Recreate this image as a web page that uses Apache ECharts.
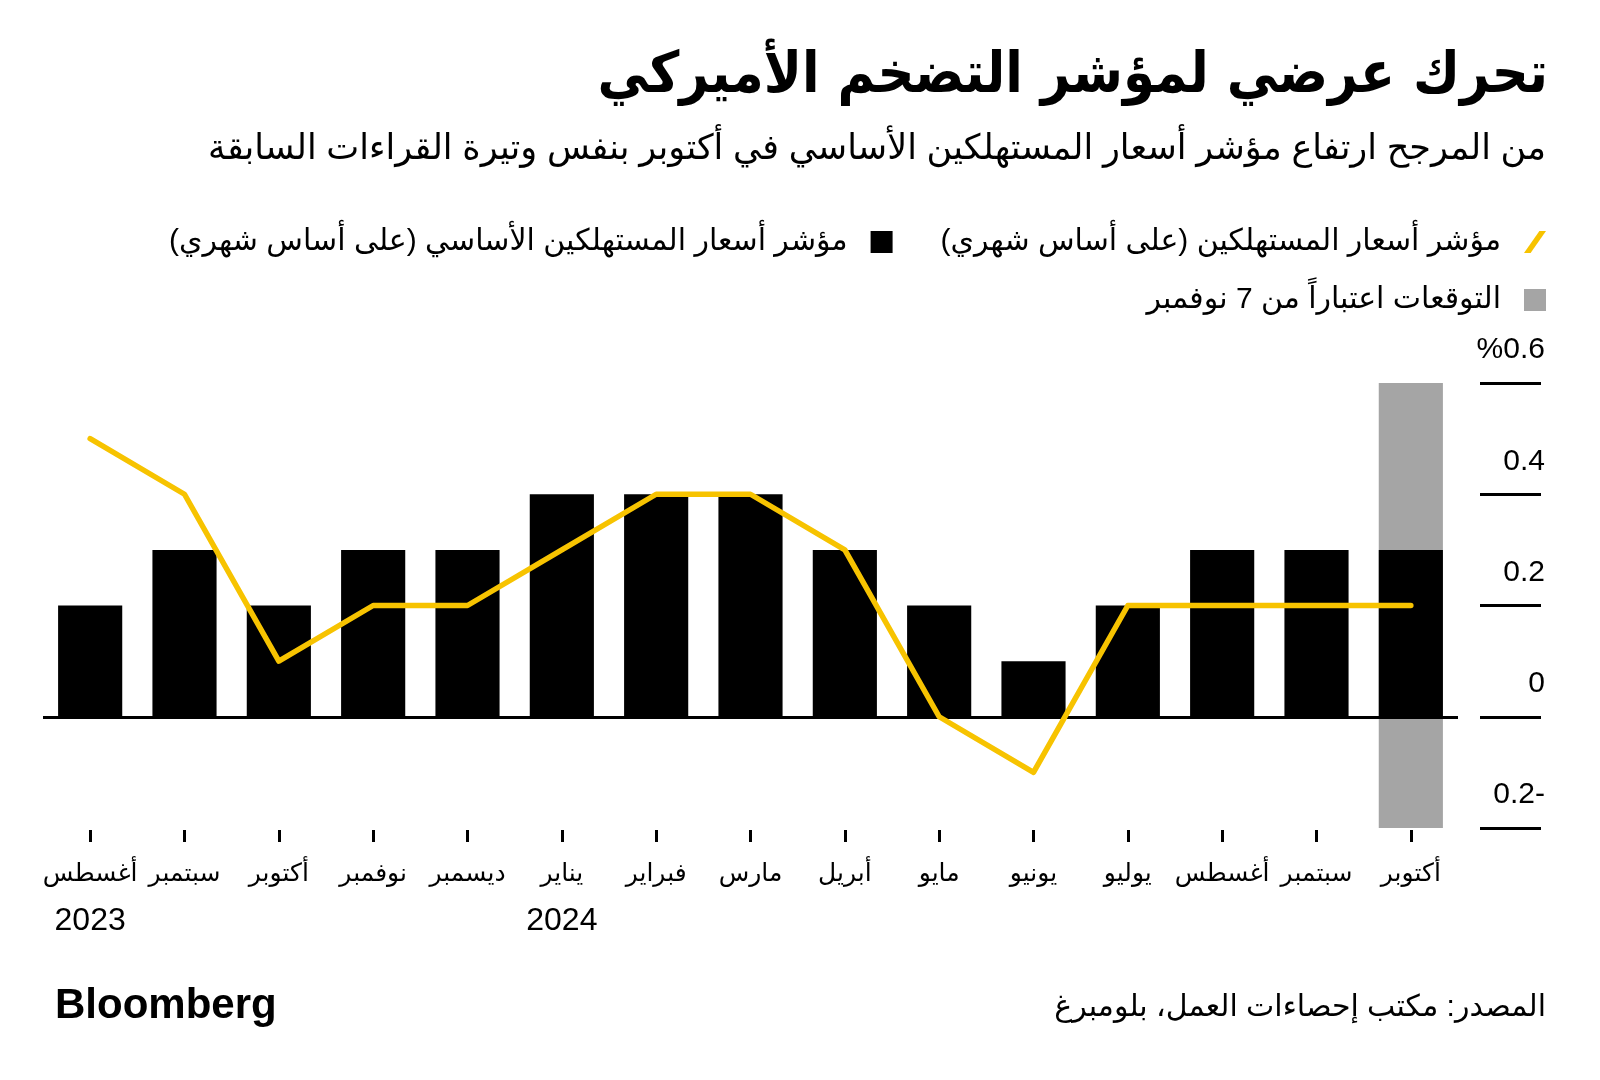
<!DOCTYPE html>
<html>
<head>
<meta charset="utf-8">
<script src="https://cdn.jsdelivr.net/npm/echarts@6/dist/echarts.min.js"></script>
<style>
html,body{margin:0;padding:0;background:#fff;}
#c{width:1600px;height:1080px;}
</style>
</head>
<body>
<div id="c"></div>
<script>
// ---- data (left to right) ----
const months = ['أغسطس','سبتمبر','أكتوبر','نوفمبر','ديسمبر','يناير','فبراير','مارس','أبريل','مايو','يونيو','يوليو','أغسطس','سبتمبر','أكتوبر'];
const years = ['2023','','','','','2024','','','','','','','','',''];
const coreCPI = [0.2,0.3,0.2,0.3,0.3,0.4,0.4,0.4,0.3,0.2,0.1,0.2,0.3,0.3,0.3];
const headlineCPI = [0.5,0.4,0.1,0.2,0.2,0.3,0.4,0.4,0.3,0.0,-0.1,0.2,0.2,0.2,0.2];
const forecastHigh = [null,null,null,null,null,null,null,null,null,null,null,null,null,null,0.6];
const forecastLow = [null,null,null,null,null,null,null,null,null,null,null,null,null,null,-0.2];
const yTickLabels = ['0.2-','0','0.2','0.4','%0.6'];

const RLM = '\u200F';
const nameCPI = 'مؤشر أسعار المستهلكين (على أساس شهري)' + RLM;
const nameCore = 'مؤشر أسعار المستهلكين الأساسي (على أساس شهري)' + RLM;
const nameFc = 'التوقعات اعتباراً من 7 نوفمبر';

const AR = '"Liberation Sans", "DejaVu Sans", sans-serif';
const YELLOW = '#f7c300';
const GRAY = '#a5a5a5';

const chart = echarts.init(document.getElementById('c'), null, {renderer:'canvas'});
chart.setOption({
  backgroundColor:'#fff',
  animation:false,
  title:[
    {text:'تحرك عرضي لمؤشر التضخم الأميركي', right:47, top:44,
     textStyle:{fontFamily:'"DejaVu Sans Condensed","DejaVu Sans",sans-serif', fontWeight:'bold', fontSize:57, color:'#000'}},
    {text:'من المرجح ارتفاع مؤشر أسعار المستهلكين الأساسي في أكتوبر بنفس وتيرة القراءات السابقة', right:49, top:127,
     textStyle:{fontFamily:AR, fontWeight:'normal', fontSize:35, color:'#000'}},
    {text:'المصدر: مكتب إحصاءات العمل، بلومبرغ', right:49, top:988,
     textStyle:{fontFamily:AR, fontWeight:'normal', fontSize:30, color:'#000'}},
    {text:'Bloomberg', left:50, top:980,
     textStyle:{fontFamily:'"Liberation Sans", Arial, sans-serif', fontWeight:'bold', fontSize:42, color:'#000'}}
  ],
  legend:[
    {data:[
       {name:nameCore, icon:'rect', itemStyle:{color:'#000'}},
       {name:nameCPI, icon:'path://M0,20 L14,0 L20,0 L6,20 Z', itemStyle:{color:YELLOW}}
     ], right:49, top:222, align:'right', itemGap:48,
     itemWidth:22, itemHeight:22, selectedMode:false,
     textStyle:{fontFamily:AR, fontSize:30, color:'#000', padding:[0,18,0,0]}},
    {data:[{name:nameFc, icon:'rect', itemStyle:{color:GRAY}}], right:49, top:280, align:'right',
     itemWidth:22, itemHeight:22, selectedMode:false,
     textStyle:{fontFamily:AR, fontSize:30, color:'#000', padding:[0,18,0,0]}}
  ],
  grid:{left:43, right:142, top:383, bottom:252, containLabel:false},
  xAxis:{
    type:'category', data:months, position:'bottom', offset:2,
    axisLine:{show:false, onZero:false},
    axisTick:{show:true, alignWithLabel:true, length:12, lineStyle:{color:'#000', width:3}},
    axisLabel:{interval:0, margin:27,
      formatter:function(v, i){ return years[i] ? '{m|' + v + '}\n{y|' + years[i] + '}' : '{m|' + v + '}'; },
      rich:{
        m:{fontFamily:AR, fontSize:25, lineHeight:34, color:'#000'},
        y:{fontFamily:'"Liberation Sans", sans-serif', fontSize:32, lineHeight:60, color:'#000'}
      }}
  },
  yAxis:{
    type:'value', min:-0.2, max:0.6, interval:0.2, position:'right', offset:22,
    axisLine:{show:false},
    axisTick:{show:true, length:61, inside:false, lineStyle:{color:'#000', width:3}},
    splitLine:{show:false},
    axisLabel:{margin:65, align:'right', verticalAlign:'bottom', padding:[0,0,18,0],
      fontFamily:'"Liberation Sans", sans-serif', fontSize:30, color:'#000',
      formatter:function(v){ return yTickLabels[Math.round((v + 0.2) / 0.2)]; }}
  },
  series:[
    {name:nameFc, type:'bar', stack:'fc', data:forecastHigh, barCategoryGap:'32%', barGap:'-100%',
     itemStyle:{color:GRAY}, silent:true},
    {name:nameFc, type:'bar', stack:'fc', data:forecastLow,
     itemStyle:{color:GRAY}, silent:true},
    {name:nameCore, type:'bar', data:coreCPI, barCategoryGap:'32%', barGap:'-100%',
     itemStyle:{color:'#000'}, silent:true,
     markLine:{symbol:'none', silent:true, label:{show:false},
       lineStyle:{color:'#000', width:3, type:'solid'}, data:[{yAxis:0}]}},
    {name:nameCPI, type:'line', data:headlineCPI, showSymbol:false, symbol:'none', z:5,
     lineStyle:{color:YELLOW, width:5.5, cap:'round', join:'round'}, itemStyle:{color:YELLOW}, silent:true}
  ]
});
</script>
</body>
</html>
